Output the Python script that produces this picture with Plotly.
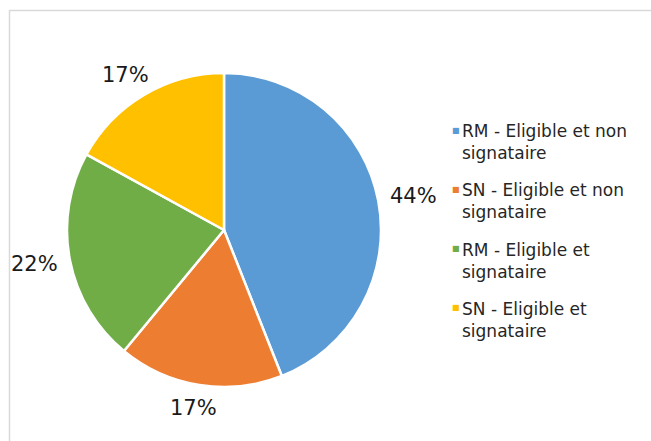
import math
import plotly.graph_objects as go

# Répartition des éligibles (part en %)
categories = [
    "RM - Eligible et non signataire",
    "SN - Eligible et non signataire",
    "RM - Eligible et signataire",
    "SN - Eligible et signataire",
]
values = [44, 17, 22, 17]
colors = ["#5B9BD5", "#ED7D31", "#70AD47", "#FFC000"]

FONT = "DejaVu Sans"
W, H = 651, 441

# Pie placement in pixels (margins are zero, so paper == page)
CX, CY, R = 224, 230, 157

fig = go.Figure()
fig.add_trace(go.Pie(
    labels=categories,
    values=values,
    sort=False,
    direction="clockwise",
    rotation=0,
    marker=dict(colors=colors, line=dict(color="white", width=2.5)),
    textinfo="none",
    showlegend=False,
    hoverinfo="label+percent",
    domain=dict(x=[(CX - R) / W, (CX + R) / W], y=[(H - CY - R) / H, (H - CY + R) / H]),
))

annotations = []

# Percentage labels set just outside each slice, at its mid-angle
total = sum(values)
gap = 13
lab_size = 21
cum = 0
for v in values:
    mid = (cum + v / 2) / total * 2 * math.pi
    cum += v
    ux, uy = math.sin(mid), math.cos(mid)          # uy > 0 means upward
    txt = f"{round(100 * v / total)}%"
    tw, th = 0.72 * lab_size * len(txt), lab_size
    px = CX + (R + gap) * ux + ux * tw / 2
    py = CY - (R + gap) * uy - uy * th / 2
    annotations.append(dict(
        x=px / W, y=1 - py / H, xref="paper", yref="paper",
        xanchor="center", yanchor="middle", showarrow=False,
        text=txt, font=dict(family=FONT, size=lab_size, color="#1a1a1a"),
    ))

# Légende à droite : petit carré coloré + libellé sur deux lignes
leg_top = 130
leg_step = 59.3
for i, (cat, col) in enumerate(zip(categories, colors)):
    yc = leg_top + i * leg_step
    head, tail = cat.rsplit(" ", 1)
    annotations.append(dict(
        x=450 / W, y=1 - yc / H, xref="paper", yref="paper",
        xanchor="left", yanchor="middle", showarrow=False,
        text="■", font=dict(family=FONT, size=8, color=col),
    ))
    annotations.append(dict(
        x=460 / W, y=1 - (yc - 11) / H, xref="paper", yref="paper",
        xanchor="left", yanchor="top", showarrow=False, align="left",
        text=f"{head}<br>{tail}",
        font=dict(family=FONT, size=17, color="#262626"),
    ))

fig.update_layout(
    width=W, height=H,
    margin=dict(l=0, r=0, t=0, b=0),
    paper_bgcolor="white",
    plot_bgcolor="white",
    annotations=annotations,
    shapes=[dict(
        type="rect", xref="paper", yref="paper",
        x0=9.5 / W, x1=1.05, y0=-0.05, y1=1 - 10.5 / H,
        line=dict(color="#D9D9D9", width=1.5),
        fillcolor="rgba(0,0,0,0)", layer="below",
    )],
)

fig.write_html("out.html")
